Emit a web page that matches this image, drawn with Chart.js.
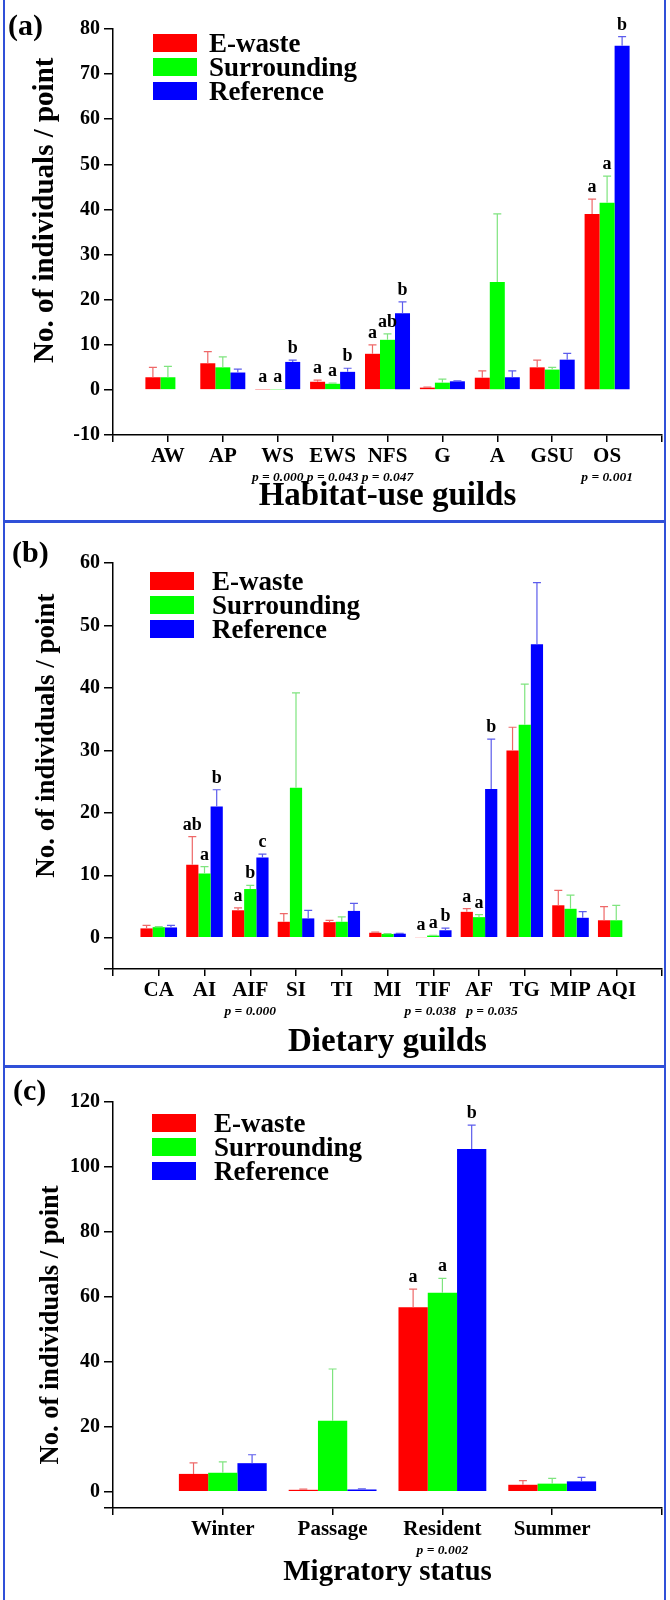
<!DOCTYPE html>
<html><head><meta charset="utf-8">
<script src="https://cdn.jsdelivr.net/npm/chart.js@4.4.1/dist/chart.umd.min.js"></script>
<style>
html,body{margin:0;padding:0;background:#fff;}
#wrap{position:relative;width:670px;height:1600px;overflow:hidden;background:#fff;}
.panel{position:absolute;left:0;width:670px;}
.panel canvas{display:block;}
.ln{position:absolute;background:#3050d8;}
</style></head><body>
<div id="wrap">
  <div class="panel" style="top:0;height:522px"><canvas id="ca" width="670" height="522"></canvas></div>
  <div class="panel" style="top:522px;height:545px"><canvas id="cb" width="670" height="545"></canvas></div>
  <div class="panel" style="top:1067px;height:533px"><canvas id="cc" width="670" height="533"></canvas></div>
  <div class="ln" style="left:3px;top:0;width:2px;height:1600px"></div>
  <div class="ln" style="left:664px;top:0;width:2px;height:1600px"></div>
  <div class="ln" style="left:3px;top:520px;width:663px;height:3px"></div>
  <div class="ln" style="left:3px;top:1065px;width:663px;height:3px"></div>
</div>
<script>
const FONT = "'Liberation Serif','Times New Roman',serif";
const seriesNames = ['E-waste', 'Surrounding', 'Reference'];
const barColors = ['#ff0000', '#00ff00', '#0000ff'];
const errColors = ['#ee6868', '#7fe47f', '#5c5cec'];

// (a) Habitat-use guilds
const habitatCats = ['AW', 'AP', 'WS', 'EWS', 'NFS', 'G', 'A', 'GSU', 'OS'];
const habitatEwaste = [2.8, 5.9, 0.1, 1.8, 8.0, 0.5, 2.7, 5.0, 39.0];
const habitatSurr = [2.8, 5.0, 0.1, 1.35, 11.1, 1.6, 23.9, 4.5, 41.5];
const habitatRef = [0.0, 3.85, 6.2, 4.0, 17.0, 1.9, 2.8, 6.7, 76.3];
const habitatEwasteSE = [2.2, 2.6, 0, 0.35, 2.0, 0.1, 1.5, 1.6, 3.3];
const habitatSurrSE = [2.4, 2.3, 0, 0.15, 1.3, 0.8, 15.1, 0.5, 5.9];
const habitatRefSE = [0, 0.75, 0.4, 0.8, 2.5, 0.1, 1.4, 1.4, 2.0];
const habitatLetters = [null, null, ['a', 'a', 'b'], ['a', 'a', 'b'], ['a', 'ab', 'b'], null, null, null, ['a', 'a', 'b']];
const habitatP = ['', '', 'p = 0.000', 'p = 0.043', 'p = 0.047', '', '', '', 'p = 0.001'];
const habitatTicks = [-10, 0, 10, 20, 30, 40, 50, 60, 70, 80];

// (b) Dietary guilds
const dietCats = ['CA', 'AI', 'AIF', 'SI', 'TI', 'MI', 'TIF', 'AF', 'TG', 'MIP', 'AQI'];
const dietEwaste = [1.5, 11.7, 4.4, 2.56, 2.5, 0.8, 0.1, 4.15, 30.0, 5.2, 2.8];
const dietSurr = [1.7, 10.3, 7.8, 24.0, 2.56, 0.6, 0.35, 3.3, 34.1, 4.64, 2.8];
const dietRef = [1.65, 21.0, 12.85, 3.1, 4.3, 0.65, 1.2, 23.8, 47.0, 3.2, 0.0];
const dietEwasteSE = [0.5, 4.5, 0.4, 1.3, 0.3, 0.1, 0, 0.5, 3.7, 2.4, 2.2];
const dietSurrSE = [0.1, 1.1, 0.6, 15.2, 0.8, 0.05, 0.05, 0.4, 6.5, 2.2, 2.4];
const dietRefSE = [0.35, 2.7, 0.55, 1.3, 1.2, 0.05, 0.35, 8.0, 9.85, 1.0, 0];
const dietLetters = [null, ['ab', 'a', 'b'], ['a', 'b', 'c'], null, null, null, ['a', 'a', 'b'], ['a', 'a', 'b'], null, null, null];
const dietP = ['', '', 'p = 0.000', '', '', '', 'p = 0.038', 'p = 0.035', '', '', ''];
const dietTicks = [-5, 0, 10, 20, 30, 40, 50, 60];

// (c) Migratory status
const migCats = ['Winter', 'Passage', 'Resident', 'Summer'];
const migEwaste = [5.5, 0.6, 56.8, 2.15];
const migSurr = [5.85, 21.9, 61.3, 2.5];
const migRef = [8.8, 0.7, 105.5, 3.2];
const migEwasteSE = [3.4, 0.2, 5.6, 1.25];
const migSurrSE = [3.35, 15.9, 4.4, 1.6];
const migRefSE = [2.6, 0.2, 7.4, 1.2];
const migLetters = [null, null, ['a', 'a', 'b'], null];
const migP = ['', '', 'p = 0.002', ''];
const migTicks = [-5, 0, 20, 40, 60, 80, 100, 120];

const sigPlugin = {
  id: 'sig',
  afterDatasetsDraw(chart, args, o) {
    const ctx = chart.ctx, ys = chart.scales.y, xs = chart.scales.x;
    ctx.save();
    chart.data.datasets.forEach((ds, k) => {
      const meta = chart.getDatasetMeta(k);
      meta.data.forEach((bar, i) => {
        const v = ds.data[i];
        if (v === null || v === undefined) return;
        const se = ds.se[i] || 0;
        const yTop = ys.getPixelForValue(v), yErr = ys.getPixelForValue(v + se);
        if (se > 0) {
          ctx.strokeStyle = ds.errColor; ctx.lineWidth = 1.2;
          ctx.beginPath();
          ctx.moveTo(bar.x, yTop); ctx.lineTo(bar.x, yErr);
          ctx.moveTo(bar.x - 4, yErr); ctx.lineTo(bar.x + 4, yErr);
          ctx.stroke();
        }
        const L = o.letters[i - 1];
        if (L && L[k]) {
          ctx.fillStyle = '#000'; ctx.font = 'bold 18px ' + FONT;
          ctx.textAlign = 'center'; ctx.textBaseline = 'alphabetic';
          ctx.fillText(L[k], bar.x, yErr - 7);
        }
      });
    });
    ctx.fillStyle = '#000';
    ctx.font = 'italic bold 13.5px ' + FONT; ctx.textAlign = 'center'; ctx.textBaseline = 'middle';
    o.pvals.forEach((p, i) => {
      if (p) ctx.fillText(p, xs.getPixelForTick(i + 1) + ((o.pShift && o.pShift[i]) || 0), chart.chartArea.bottom + 43);
    });
    // legend
    ctx.font = 'bold 27px ' + FONT; ctx.textAlign = 'left'; ctx.textBaseline = 'alphabetic';
    chart.data.datasets.forEach((ds, k) => {
      const y0 = o.legY + k * 24;
      ctx.fillStyle = ds.backgroundColor;
      ctx.fillRect(o.legX, y0, 44, 18);
      ctx.fillStyle = '#000';
      ctx.fillText(ds.label, o.legTextX, y0 + 18);
    });
    // panel tag
    ctx.font = 'bold 30px ' + FONT;
    ctx.fillText(o.tag, o.tagX, o.tagY);
    ctx.restore();
  }
};

function makeChart(id, p) {
  const H = document.getElementById(id).height;
  const pad = arr => [null, ...arr, null];
  const labels = ['', ...p.cats, ''];
  const datasets = p.series.map((vals, k) => ({
    label: seriesNames[k],
    data: pad(vals),
    se: pad(p.se[k]),
    errColor: errColors[k],
    backgroundColor: barColors[k],
    borderWidth: 0,
    categoryPercentage: p.catPct,
    barPercentage: 1.0
  }));
  return new Chart(document.getElementById(id), {
    type: 'bar',
    data: { labels, datasets },
    plugins: [sigPlugin],
    options: {
      responsive: false,
      animation: false,
      layout: { padding: { top: p.top, right: 8, bottom: 0, left: 0 } },
      plugins: {
        legend: { display: false },
        tooltip: { enabled: false },
        sig: { letters: p.letters, pvals: p.pvals, pShift: p.pShift, legX: p.legX, legY: p.legY, legTextX: p.legTextX, tag: p.tag, tagX: p.tagX, tagY: p.tagY }
      },
      scales: {
        x: {
          type: 'category',
          offset: false,
          afterFit: s => { s.height = H - p.bottom; },
          border: { display: true, color: '#000', width: 1.5 },
          grid: { display: true, offset: false, drawOnChartArea: false, drawTicks: true, tickLength: 7, color: '#000', lineWidth: 1.5 },
          ticks: { color: '#000', autoSkip: false, maxRotation: 0, padding: 2, font: { family: FONT, size: 21, weight: 'bold' } },
          title: { display: true, text: p.xTitle, color: '#000', font: { family: FONT, size: p.xTitleSize, weight: 'bold' }, padding: { top: 0, bottom: p.xTitlePad } }
        },
        y: {
          min: p.ticks[0],
          max: p.ticks[p.ticks.length - 1],
          afterBuildTicks: s => { s.ticks = p.ticks.map(v => ({ value: v })); },
          afterFit: s => { s.width = 113; },
          border: { display: true, color: '#000', width: 1.5 },
          grid: { display: true, drawOnChartArea: false, drawTicks: true, tickLength: 9, color: '#000', lineWidth: 1.5 },
          ticks: { color: '#000', padding: 4, font: { family: FONT, size: 20, weight: 'bold' }, callback: v => (p.hideNeg && v < 0) ? '' : v },
          title: { display: true, text: p.yTitle, color: '#000', font: { family: FONT, size: p.yTitleSize, weight: 'bold' }, padding: { top: p.yTitlePad, bottom: 0 } }
        }
      }
    }
  });
}

makeChart('ca', {
  cats: habitatCats, series: [habitatEwaste, habitatSurr, habitatRef], se: [habitatEwasteSE, habitatSurrSE, habitatRefSE],
  letters: habitatLetters, pvals: habitatP, ticks: habitatTicks, hideNeg: false,
  catPct: 0.82, top: 29, bottom: 435,
  xTitle: 'Habitat-use guilds', xTitleSize: 33, xTitlePad: 6,
  yTitle: '      No. of individuals / point', yTitleSize: 29, yTitlePad: 28.5,
  legX: 153, legY: 34, legTextX: 209, tag: '(a)', tagX: 8, tagY: 35
});
makeChart('cb', {
  cats: dietCats, series: [dietEwaste, dietSurr, dietRef], se: [dietEwasteSE, dietSurrSE, dietRefSE],
  letters: dietLetters, pvals: dietP, pShift: [0, 0, 0, 0, 0, 0, -3, 13, 0, 0, 0], ticks: dietTicks, hideNeg: true,
  catPct: 0.8, top: 41, bottom: 447,
  xTitle: 'Dietary guilds', xTitleSize: 33, xTitlePad: 5,
  yTitle: '         No. of individuals / point', yTitleSize: 27, yTitlePad: 31,
  legX: 150, legY: 50, legTextX: 212, tag: '(b)', tagX: 12, tagY: 40
});
makeChart('cc', {
  cats: migCats, series: [migEwaste, migSurr, migRef], se: [migEwasteSE, migSurrSE, migRefSE],
  letters: migLetters, pvals: migP, ticks: migTicks, hideNeg: true,
  catPct: 0.8, top: 35, bottom: 441,
  xTitle: 'Migratory status', xTitleSize: 29, xTitlePad: 10,
  yTitle: 'No. of individuals / point      ', yTitleSize: 26.5, yTitlePad: 35,
  legX: 152, legY: 47, legTextX: 214, tag: '(c)', tagX: 13, tagY: 33
});
</script>
</body></html>
